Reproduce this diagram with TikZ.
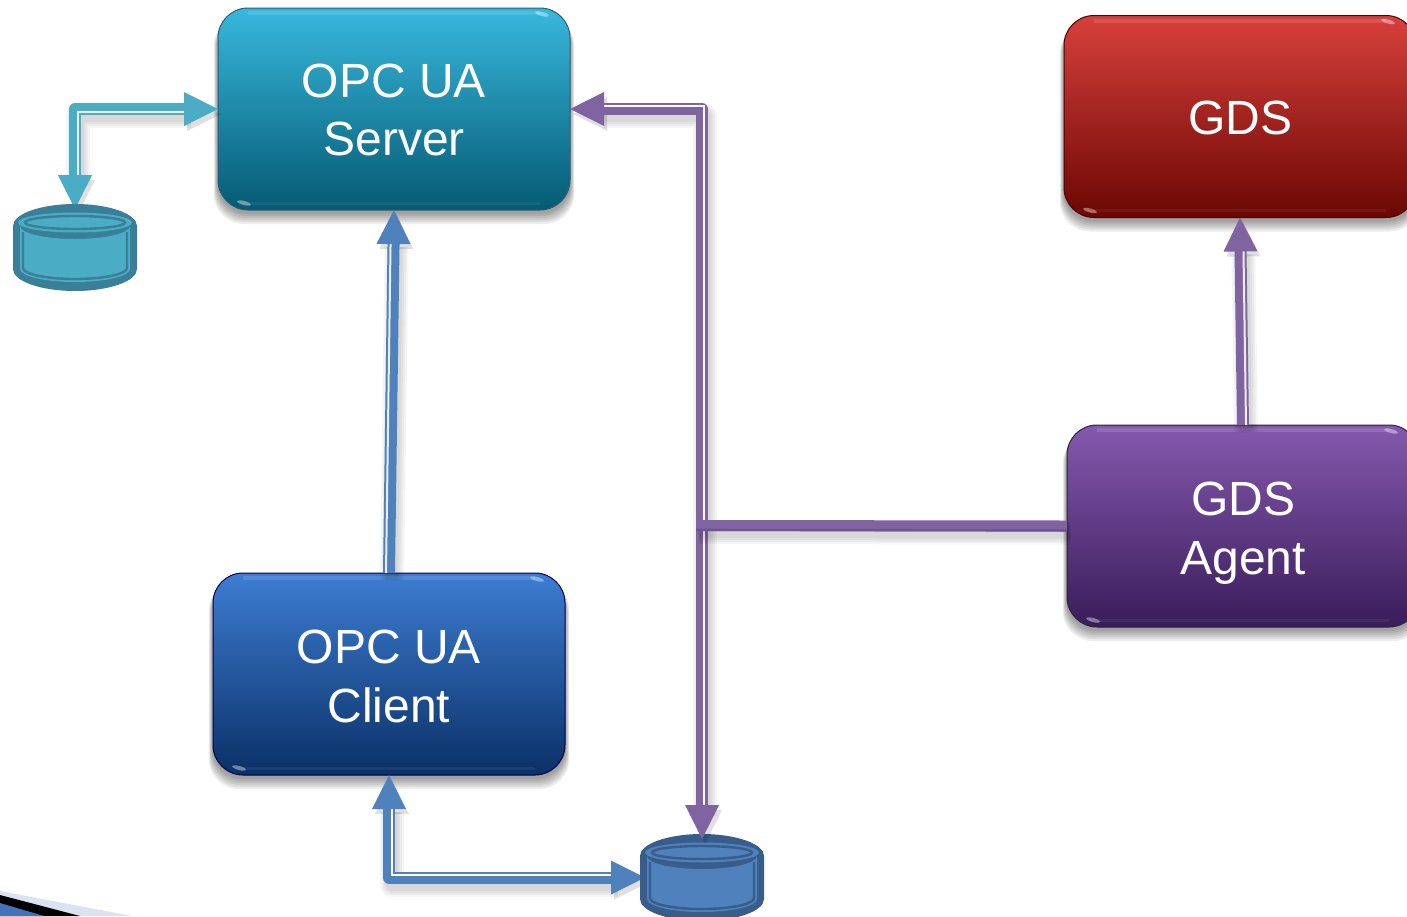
\documentclass[tikz,border=0pt]{standalone}
\usepackage{fontspec}
\setmainfont{Liberation Sans}
\usetikzlibrary{arrows.meta,calc,backgrounds}
\definecolor{cyanL}{HTML}{4BACC6}
\definecolor{cyanD}{HTML}{387F97}
\definecolor{blueL}{HTML}{4F81BD}
\definecolor{blueD}{HTML}{385D8A}
\definecolor{purpL}{HTML}{8064A2}
\definecolor{purpD}{HTML}{6F548F}
\definecolor{gapc}{HTML}{EDEDED}
\definecolor{swooshL}{HTML}{DBE3F0}
\definecolor{swooshB}{HTML}{4472B8}
\tikzset{
  >={Triangle[length=17pt,width=17pt,line width=0pt]},
  boxnode/.style={rectangle,rounded corners=15pt,minimum width=176pt,minimum height=101pt,
    inner sep=0pt,outer sep=0pt,text=white,align=center,line width=.5pt,
    font=\fontsize{24pt}{29pt}\selectfont},
  srvbox/.style={boxnode,draw=black!25!cyanD,top color=srvT,middle color=srvM,bottom color=srvB},
  gdsbox/.style={boxnode,draw=red!30!black,top color=gdsT,middle color=gdsM,bottom color=gdsB},
  clibox/.style={boxnode,draw=blue!30!black,top color=cliT,middle color=cliM,bottom color=cliB},
  agtbox/.style={boxnode,draw=purpD!40!black,top color=agtT,middle color=agtM,bottom color=agtB},
  dbnode/.style={rectangle,inner sep=0pt,outer sep=0pt,minimum width=57pt,minimum height=38.5pt},
  shaft/.style={line width=6pt,line join=round},
  gapline/.style={line width=1pt},
  sOne/.style={shorten >=15pt},
  sTwo/.style={shorten >=15pt,shorten <=15pt},
  softsh/.style={black,opacity=.04,line join=round,transform canvas={xshift=1.5pt,yshift=-3.5pt}},
}
\definecolor{srvT}{HTML}{38B8DE}\definecolor{srvM}{HTML}{1589AE}\definecolor{srvB}{HTML}{055A73}
\definecolor{gdsT}{HTML}{D8403C}\definecolor{gdsM}{HTML}{A3150F}\definecolor{gdsB}{HTML}{6B0703}
\definecolor{cliT}{HTML}{3D7DD2}\definecolor{cliM}{HTML}{16569F}\definecolor{cliB}{HTML}{0A3067}
\definecolor{agtT}{HTML}{8559AE}\definecolor{agtM}{HTML}{5D3A87}\definecolor{agtB}{HTML}{391C5A}
% #1 colour, #2 shorten style, #3 tip spec, #4 path, #5 gap shift, #6 gap colour
\newcommand{\wire}[6]{%
  \foreach \wd in {6,8,10,12}{\draw[softsh,#2,line width=\wd pt] #4;}
  \path[tips,color=black,opacity=.12,#3,transform canvas={xshift=1.5pt,yshift=-2.5pt}] #4;
  \draw[shaft,#2,draw=#1] #4;
  \draw[gapline,#2,draw=#6,transform canvas={#5}] #4;
  \path[tips,color=#1,#3] #4;
}
% #1 name
\newcommand{\boxfx}[1]{%
  \begin{scope}[on background layer]
    \foreach \g in {1,2,3,4,5,6}{
      \fill[black,opacity=.07,rounded corners=15pt]
        ($(#1.north west)+(-.35*\g pt,-4pt)$) rectangle ($(#1.south east)+(.35*\g pt,-1pt-\g pt)$);}
  \end{scope}
  \draw[white,opacity=.12,line width=2pt] ($(#1.north west)+(15pt,-2.5pt)$) -- ($(#1.north east)+(-15pt,-2.5pt)$);
  \draw[white,opacity=.06,line width=1.5pt] ($(#1.south west)+(15pt,3.5pt)$) -- ($(#1.south east)+(-15pt,3.5pt)$);
  \fill[white,opacity=.4] ($(#1.north east)+(-14pt,-3pt)$) ellipse [x radius=3.5pt,y radius=1pt,rotate=-15];
  \fill[white,opacity=.4] ($(#1.south west)+(13pt,3.5pt)$) ellipse [x radius=3.5pt,y radius=1pt,rotate=-15];
}
% #1 top-left, #2 light, #3 dark
\newcommand{\dbshape}[3]{%
  \begin{scope}[shift={#1}]
    \fill[#3] (0,22) arc[start angle=180,end angle=360,x radius=62,y radius=22] -- (124,65)
      arc[start angle=0,end angle=180,x radius=62,y radius=22] -- cycle;
    \fill[#2] (7,22) arc[start angle=180,end angle=0,x radius=55,y radius=13] -- (117,65)
      arc[start angle=0,end angle=180,x radius=55,y radius=13] -- cycle;
    \draw[#3,line width=1.2pt] (10,28) -- (10,64) arc[start angle=180,end angle=0,x radius=52,y radius=11] -- (114,28);
    \fill[#2] (62,18.5) ellipse (57 and 10);
    \draw[#3,line width=1.2pt] (62,18.5) ellipse (50 and 6.5);
  \end{scope}
}
\newcommand{\lowered}[2]{\raisebox{0pt}[\dimexpr\height+#1pt\relax]{#2}}
\begin{document}
\begin{tikzpicture}[x=.5pt,y=-.5pt]
\useasboundingbox (0,0) rectangle (1407,916);
\begin{scope}[on background layer]
  \fill[white] (0,0) rectangle (1407,916);
\end{scope}
% corner swoosh
\fill[swooshL] (0,891) -- (132,916) -- (0,916) -- cycle;
\fill[black] (0,895) -- (80,916) -- (0,916) -- cycle;
\fill[swooshB] (0,903) -- (44,916) -- (0,916) -- cycle;
% boxes
\node[srvbox] (srv) at (394,109) {\lowered{1}{OPC UA}\\Server};
\node[gdsbox] (gds) at (1240,116.5) {\lowered{1}{GDS}};
\node[clibox] (cli) at (389,674) {\lowered{2}{OPC UA}\\[.5pt]Client};
\node[agtbox] (agt) at (1243,526) {\lowered{2.5}{GDS}\\[.5pt]\raisebox{0pt}[\height][0pt]{Agent}};
\boxfx{srv}\boxfx{gds}\boxfx{cli}\boxfx{agt}
% store anchors
\node[dbnode] (db1) at (75,247.5) {};
\node[dbnode] (db2) at (702,877.5) {};
\coordinate (junc) at (696,525.5);
% connectors that pass under the stores
\wire{cyanL}{sTwo}{<->}{(db1.north) |- (srv.west)}{xshift=1.5pt,yshift=-1.25pt}{gapc}
\wire{blueL}{sOne}{->}{(cli.north) -- (srv.south)}{xshift=-1.5pt}{gapc}
\wire{blueL}{sTwo}{<->}{(cli.south) |- (db2.west)}{xshift=1.5pt,yshift=1.5pt}{white}
% stores
\dbshape{(13,204)}{cyanL}{cyanD}
\dbshape{(640,834)}{blueL}{blueD}
% connectors on top
\wire{purpL}{sTwo}{<->}{(srv.east) -| (db2.north)}{xshift=1pt,yshift=1.5pt}{white}
\wire{purpL}{sOne}{->}{(agt.north) -- (gds.south)}{xshift=1.5pt}{gapc}
\foreach \wd in {5.5,7.5,9.5,11.5}{\draw[softsh,line width=\wd pt] (agt.west) -- (junc);}
\draw[line width=5.5pt,draw=purpL] (agt.west) -- (junc);
\draw[line width=1.2pt,draw=purpD,transform canvas={yshift=-2.2pt}] (agt.west) -- (junc);
\end{tikzpicture}
\end{document}
